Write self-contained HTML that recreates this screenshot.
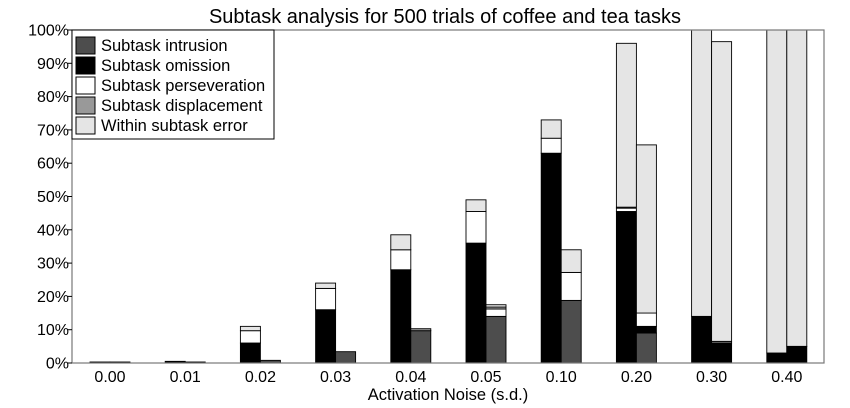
<!DOCTYPE html>
<html><head><meta charset="utf-8"><style>
body{margin:0;background:#fff;}
svg{display:block;font-family:"Liberation Sans",sans-serif;}
</style></head><body>
<svg id="chart" width="850" height="408">
<text x="445" y="23" font-size="20" text-anchor="middle">Subtask analysis for 500 trials of coffee and tea tasks</text>
<g id="bars"></g>
<rect x="72" y="30" width="752" height="333" fill="none" stroke="#777" stroke-width="1.2"/>
<g id="yaxis"></g>
<g id="xaxis"></g>
<text x="448" y="400" font-size="16.5" text-anchor="middle">Activation Noise (s.d.)</text>
<g id="legend"></g>
</svg>
<script>
const categories = ["0.00","0.01","0.02","0.03","0.04","0.05","0.10","0.20","0.30","0.40"];
const seriesNames = ["Subtask intrusion","Subtask omission","Subtask perseveration","Subtask displacement","Within subtask error"];
const coffeeIntrusion = [0,0,0,0,0,0,0,0,0,0];
const coffeeOmission = [0.3,0.5,6,16,28,36,63,45.5,14,3];
const coffeePerseveration = [0,0,3.7,6.4,6,9.5,4.5,1,0,0];
const coffeeDisplacement = [0,0,0,0,0,0,0,0.3,0,0];
const coffeeWithin = [0,0,1.3,1.6,4.5,3.5,5.5,49.2,86,97];
const teaIntrusion = [0,0,0.8,3.4,9.7,14,18.8,9,0,0];
const teaOmission = [0.3,0.3,0,0,0,0,0,2,6,5];
const teaPerseveration = [0,0,0,0,0,2.2,8.4,4,0,0];
const teaDisplacement = [0,0,0,0,0.6,0.6,0,0,0.5,0];
const teaWithin = [0,0,0,0,0,0.7,6.8,50.5,90,95];
const yTicks = [0,10,20,30,40,50,60,70,80,90,100];
const colors = ["#4d4d4d","#000000","#ffffff","#999999","#e5e5e5"];

const NS="http://www.w3.org/2000/svg";
const x0=110, dx=75.2, bw=20;
function xScale(i){return x0+i*dx;}
function yScale(v){return 363-v*3.33;}
function mk(tag,attrs,parent){const e=document.createElementNS(NS,tag);for(const k in attrs)e.setAttribute(k,attrs[k]);parent.appendChild(e);return e;}

const bars=document.getElementById('bars');
const coffee=[coffeeIntrusion,coffeeOmission,coffeePerseveration,coffeeDisplacement,coffeeWithin];
const tea=[teaIntrusion,teaOmission,teaPerseveration,teaDisplacement,teaWithin];
[[coffee,-bw,'coffee'],[tea,0,'tea']].forEach(([data,off,nm])=>{
  categories.forEach((c,i)=>{
    let acc=0;
    data.forEach((arr,s)=>{
      const v=arr[i]; if(v<=0)return;
      const y1=yScale(acc+v), y2=yScale(acc);
      const r=mk('rect',{x:xScale(i)+off,y:y1,width:bw,height:Math.max(y2-y1,0.8),fill:colors[s],stroke:"#000","stroke-width":0.9},bars);
      
      
      acc+=v;
    });
  });
});

const ya=document.getElementById('yaxis');
yTicks.forEach(t=>{
  const y=yScale(t);
  const l=mk('line',{x1:68,x2:72,y1:y,y2:y,stroke:"#000"},ya);
  
  
  const tx=mk('text',{x:69,y:y+5.5,"font-size":16,"text-anchor":"end"},ya);
  tx.textContent=t+"%";
  
  
});
const xa=document.getElementById('xaxis');
categories.forEach((c,i)=>{
  const tx=mk('text',{x:xScale(i),y:382,"font-size":16,"text-anchor":"middle"},xa);
  tx.textContent=c;
  
  
});

const lg=document.getElementById('legend');
const box=mk('rect',{x:72,y:30,width:202,height:109,fill:"#fff",stroke:"#000","stroke-width":1},lg);


seriesNames.forEach((n,s)=>{
  const y=37+s*20;
  const r=mk('rect',{x:76,y:y,width:19,height:17,fill:colors[s],stroke:"#000","stroke-width":1},lg);
  
  
  const t=mk('text',{x:101,y:y+14,"font-size":16.5},lg);
  t.textContent=n;
  
  
});
</script>
</body></html>
